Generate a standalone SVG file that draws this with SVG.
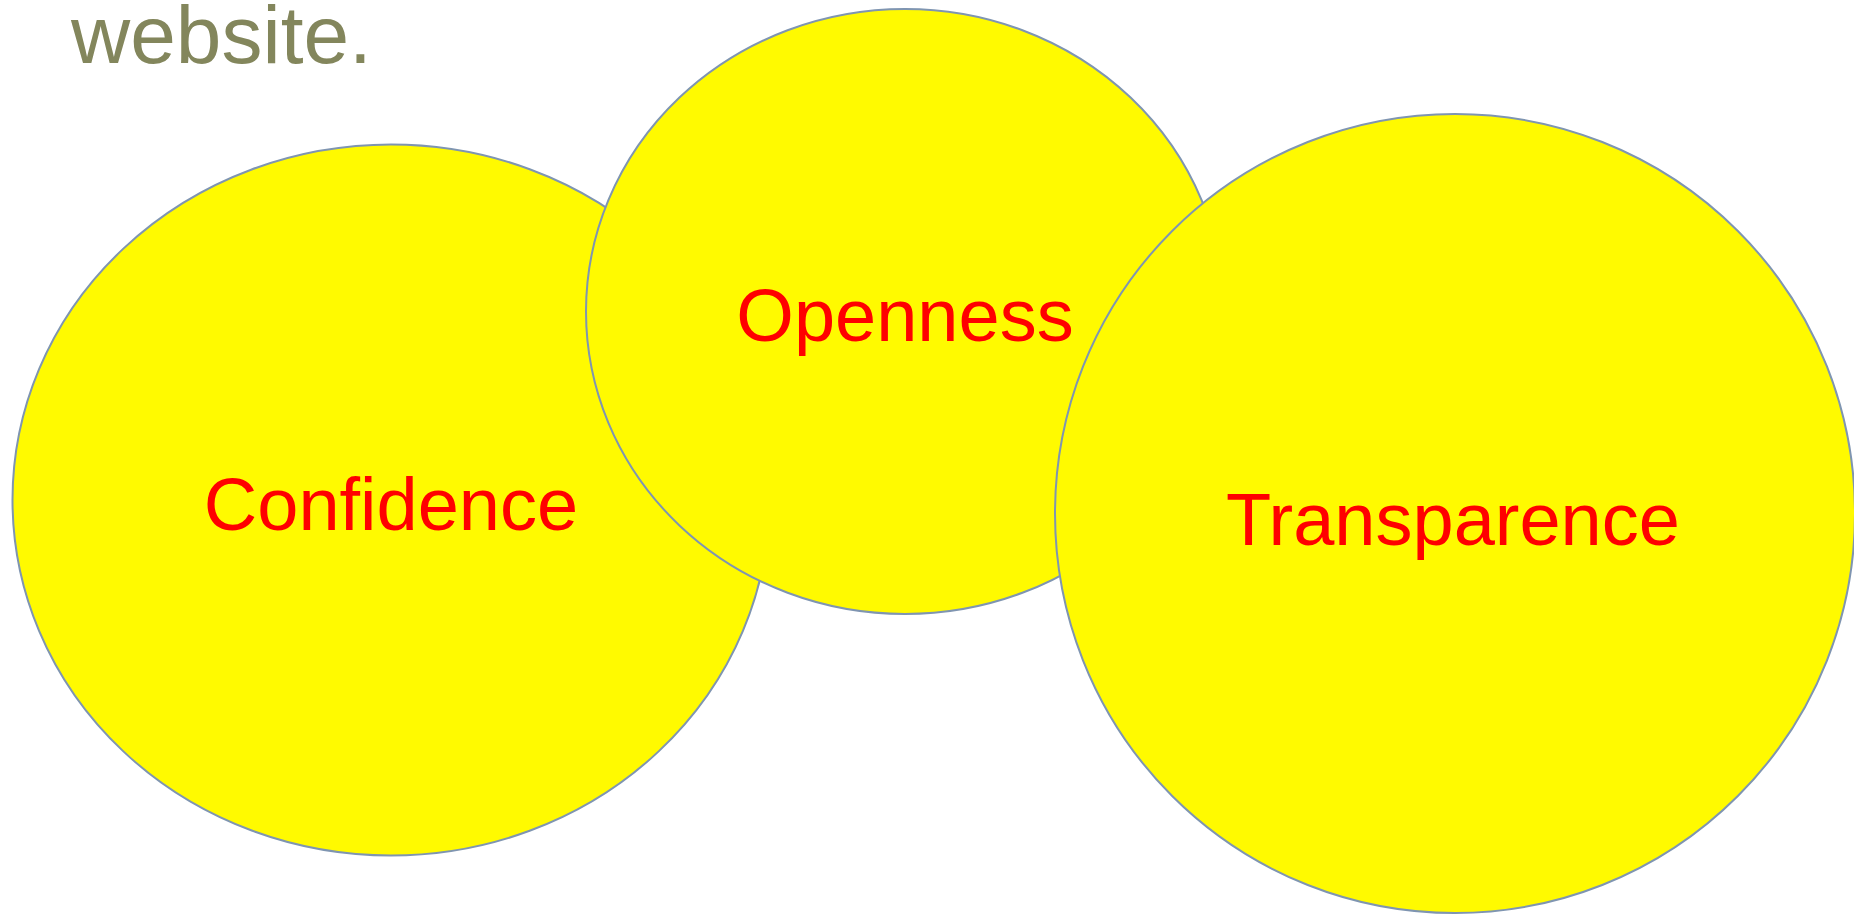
<svg xmlns="http://www.w3.org/2000/svg" width="1854" height="914" viewBox="0 0 1854 914">
  <style>
    .bubble { fill: #FFFA00; stroke: #7F95B1; stroke-width: 2; }
    .label { font-family: "Liberation Sans", Arial, sans-serif; font-size: 74px; fill: #FF0000; text-anchor: middle; }
    .caption { font-family: "Liberation Sans", Arial, sans-serif; font-size: 82px; fill: #83865C; }
  </style>
  <rect width="1854" height="914" fill="#FFFFFF"/>
  <text class="caption" x="71" y="63">website.</text>
  <g id="confidence">
    <ellipse class="bubble" cx="391" cy="500" rx="378.5" ry="355.5"/>
    <text class="label" x="391" y="530">Confidence</text>
  </g>
  <g id="openness">
    <ellipse class="bubble" cx="905" cy="311.5" rx="319" ry="302.5"/>
    <text class="label" x="905" y="341">Openness</text>
  </g>
  <g id="transparence">
    <ellipse class="bubble" cx="1455" cy="513.5" rx="400" ry="399.5"/>
    <text class="label" x="1453" y="545">Transparence</text>
  </g>
  <g id="connectors"/>
</svg>
